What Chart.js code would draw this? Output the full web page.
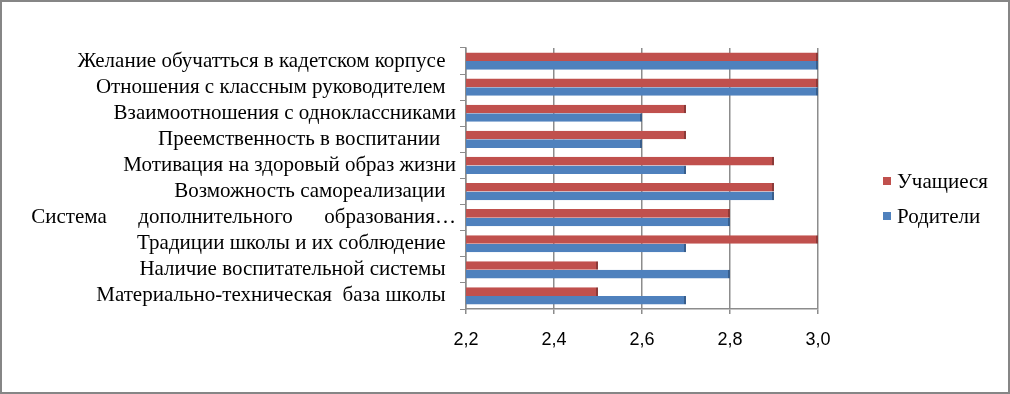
<!DOCTYPE html>
<html>
<head>
<meta charset="utf-8">
<script src="https://cdn.jsdelivr.net/npm/chart.js@4"></script>
<style>
  body { margin: 0; background: #fff; }
  #box { width: 1010px; height: 394px; box-sizing: border-box; border: 2px solid #868686; }
</style>
</head>
<body>
<div id="box"><canvas id="myChart" width="1006" height="390"></canvas></div>
<script>
var categories = [
  "Желание обучатться в кадетском корпусе  ",
  "Отношения с классным руководителем  ",
  "Взаимоотношения с одноклассниками",
  "Преемственность в воспитании   ",
  "Мотивация на здоровый образ жизни",
  "Возможность самореализации  ",
  "Система      дополнительного      образования…",
  "Традиции школы и их соблюдение  ",
  "Наличие воспитательной системы  ",
  "Материально-техническая  база школы  "
];
var students = [3.0, 3.0, 2.7, 2.7, 2.9, 2.9, 2.8, 3.0, 2.5, 2.5];
var parents = [3.0, 3.0, 2.6, 2.6, 2.7, 2.9, 2.8, 2.7, 2.8, 2.7];
var xMin = 2.2, xMax = 3.0, xStep = 0.2;

var serif = "'Liberation Serif', 'Times New Roman', serif";

// legend drawn by hand so it sits where the original has it
var sideLegend = {
  id: "sideLegend",
  afterDraw: function (chart) {
    var c = chart.ctx;
    c.save();
    c.font = "21px " + serif;
    c.textBaseline = "middle";
    chart.data.datasets.forEach(function (ds, i) {
      var y = 179 + i * 35;
      c.fillStyle = ds.backgroundColor;
      c.fillRect(881, y - 4, 8, 8);
      c.fillStyle = "#000";
      c.fillText(ds.label, 895, y + 1);
    });
    c.restore();
  }
};

window.addEventListener("load", function () {
  var ctx = document.getElementById("myChart");
  var chart = new Chart(ctx, {
    type: "bar",
    data: {
      labels: categories,
      datasets: [
        {
          label: "Учащиеся",
          data: students,
          backgroundColor: "#C0504D",
          borderColor: "#8C3A38",
          borderWidth: { right: 2, top: 0, bottom: 0, left: 0 },
          borderSkipped: false,
          categoryPercentage: 0.66,
          barPercentage: 1
        },
        {
          label: "Родители",
          data: parents,
          backgroundColor: "#4F81BD",
          borderColor: "#385E8C",
          borderWidth: { right: 2, top: 0, bottom: 0, left: 0 },
          borderSkipped: false,
          categoryPercentage: 0.66,
          barPercentage: 1
        }
      ]
    },
    options: {
      indexAxis: "y",
      responsive: false,
      animation: false,
      layout: { padding: { top: 46, right: 190, left: 0, bottom: 0 } },
      plugins: {
        legend: { display: false },
        tooltip: { enabled: false }
      },
      scales: {
        x: {
          min: xMin,
          max: xMax,
          ticks: {
            stepSize: xStep,
            color: "#000",
            padding: 15,
            font: { family: "'Liberation Sans', Arial, sans-serif", size: 18 },
            callback: function (v) { return v.toFixed(1).replace(".", ","); }
          },
          grid: { color: "#8c8c8c", tickLength: 5, lineWidth: 1.5 },
          border: { color: "#8c8c8c", width: 1.5 },
          afterFit: function (s) { s.height = 83; }
        },
        y: {
          ticks: {
            color: "#000",
            padding: 4,
            autoSkip: false,
            font: { family: serif, size: 21 }
          },
          grid: { drawOnChartArea: false, color: "#8c8c8c", tickLength: 6, offset: true },
          border: { color: "#8c8c8c", width: 1.5 },
          afterFit: function (s) { s.width = 464; }
        }
      }
    },
    plugins: [sideLegend]
  });
});
</script>
</body>
</html>
